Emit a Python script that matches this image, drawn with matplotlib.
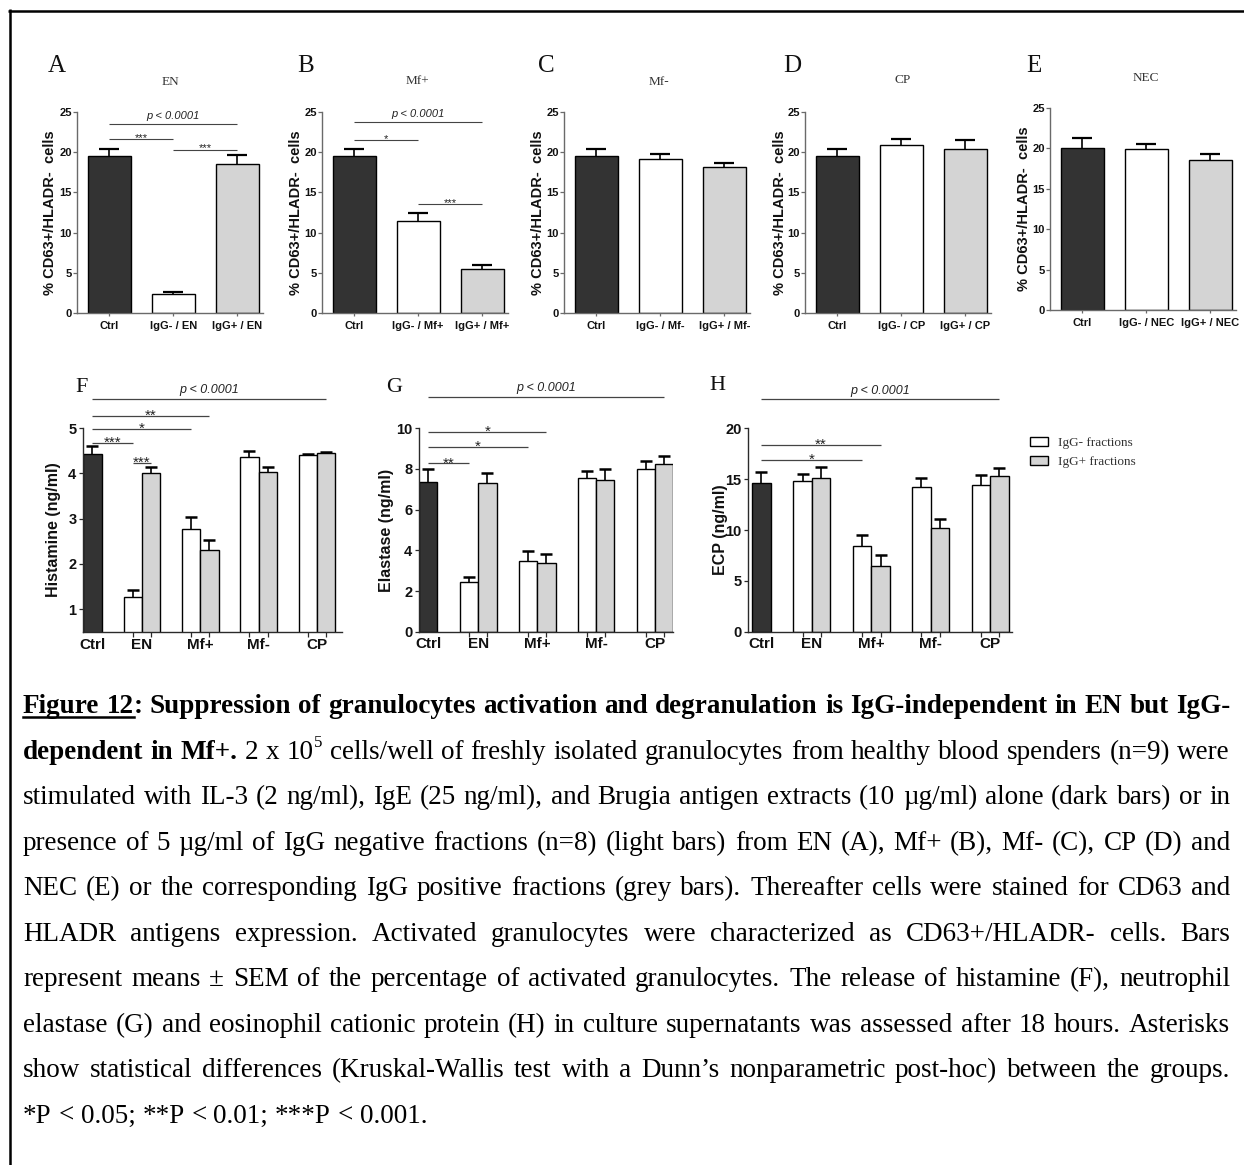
import numpy as np
import matplotlib
matplotlib.use('Agg')
import matplotlib.pyplot as plt
from matplotlib import font_manager as fm
from matplotlib.lines import Line2D
from matplotlib.patches import Patch

W, H, DPI = 1244, 1165, 100


def has_font(name):
    try:
        fm.findfont(fm.FontProperties(family=name), fallback_to_default=False)
        return True
    except Exception:
        return False


SANS = 'Liberation Sans' if has_font('Liberation Sans') else 'DejaVu Sans'
NARROW = 'Liberation Sans Narrow' if has_font('Liberation Sans Narrow') else SANS
SERIF = 'Liberation Serif' if has_font('Liberation Serif') else 'DejaVu Serif'
plt.rcParams['font.family'] = [SANS, 'DejaVu Sans']

# ---------------------------------------------------------------- data
top_letters = ['A', 'B', 'C', 'D', 'E']
top_sources = ['EN', 'Mf+', 'Mf-', 'CP', 'NEC']
top_ctrl = [19.54, 19.50, 19.50, 19.54, 20.04]
top_ctrl_err = [0.83, 0.87, 0.87, 0.83, 1.24]
top_igg_neg = [2.36, 11.47, 19.20, 20.87, 19.92]
top_igg_neg_err = [0.21, 1.03, 0.55, 0.73, 0.66]
top_igg_pos = [18.51, 5.47, 18.10, 20.37, 18.51]
top_igg_pos_err = [1.19, 0.49, 0.58, 1.12, 0.83]
top_ylabel = '% CD63+/HLADR-  cells'
top_yticks = [0, 5, 10, 15, 20, 25]
# significance brackets (from bar, to bar, height, label) for panels A and B
top_annots = {
    0: [(0, 2, 23.5, 'p < 0.0001'), (0, 1, 21.6, '***'), (1, 2, 20.3, '***')],
    1: [(0, 2, 23.7, 'p < 0.0001'), (0, 1, 21.5, '*'), (1, 2, 13.5, '***')],
}

bottom_letters = ['F', 'G', 'H']
bottom_groups = ['EN', 'Mf+', 'Mf-', 'CP']
bottom_ylabels = ['Histamine (ng/ml)', 'Elastase (ng/ml)', 'ECP (ng/ml)']

hist_ctrl, hist_ctrl_err = 4.43, 0.17
hist_neg = [1.28, 2.77, 4.36, 4.40]
hist_neg_err = [0.14, 0.26, 0.14, 0.03]
hist_pos = [4.00, 2.30, 4.02, 4.45]
hist_pos_err = [0.13, 0.22, 0.13, 0.03]

elas_ctrl, elas_ctrl_err = 7.38, 0.60
elas_neg = [2.46, 3.49, 7.54, 8.02]
elas_neg_err = [0.21, 0.48, 0.36, 0.37]
elas_pos = [7.31, 3.39, 7.48, 8.23]
elas_pos_err = [0.48, 0.45, 0.54, 0.43]

ecp_ctrl, ecp_ctrl_err = 14.66, 1.08
ecp_neg = [14.79, 8.43, 14.26, 14.39]
ecp_neg_err = [0.75, 1.08, 0.89, 0.99]
ecp_pos = [15.15, 6.49, 10.20, 15.28]
ecp_pos_err = [1.05, 1.05, 0.91, 0.82]

hist_annots = [('Ctrl', 'CP+', 5.64, 'p < 0.0001'), ('Ctrl', 'Mf++', 5.27, '**'),
               ('Ctrl', 'Mf+-', 4.98, '*'), ('Ctrl', 'EN-', 4.68, '***'),
               ('EN-', 'EN+', 4.23, '***')]
elas_annots = [('Ctrl', 'CP+', 11.55, 'p < 0.0001'), ('Ctrl', 'Mf++', 9.83, '*'),
               ('Ctrl', 'Mf+-', 9.10, '*'), ('Ctrl', 'EN-', 8.28, '**')]
ecp_annots = [('Ctrl', 'CP+', 22.85, 'p < 0.0001'), ('Ctrl', 'Mf++', 18.36, '**'),
              ('Ctrl', 'Mf+-', 16.88, '*')]

legend_labels = ['IgG- fractions', 'IgG+ fractions']

caption_bold1 = 'Suppression of granulocytes activation and degranulation is IgG-independent in EN but IgG-'
caption_bold2 = 'dependent in Mf+.'
caption_rest2 = 'cells/well of freshly isolated granulocytes from healthy blood spenders (n=9) were'
caption_plain = [
    'stimulated with IL-3 (2 ng/ml), IgE (25 ng/ml), and Brugia antigen extracts (10 \u00b5g/ml) alone (dark bars) or in',
    'presence of 5 \u00b5g/ml of IgG negative fractions (n=8) (light bars) from EN (A), Mf+ (B), Mf- (C), CP (D) and',
    'NEC (E) or the corresponding IgG positive fractions (grey bars). Thereafter cells were stained for CD63 and',
    'HLADR antigens expression. Activated granulocytes were characterized as CD63+/HLADR- cells. Bars',
    'represent means \u00b1 SEM of the percentage of activated granulocytes. The release of histamine (F), neutrophil',
    'elastase (G) and eosinophil cationic protein (H) in culture supernatants was assessed after 18 hours. Asterisks',
    'show statistical differences (Kruskal-Wallis test with a Dunn\u2019s nonparametric post-hoc) between the groups.',
    '*P < 0.05; **P < 0.01; ***P < 0.001.',
]

# ---------------------------------------------------------------- style
DARK = '#333333'
LIGHT = '#d4d4d4'
TOP_SPINE = '#6a6a6a'
BOT_SPINE = '#2a2a2a'
BRACKET = '#444444'

fig = plt.figure(figsize=(W / DPI, H / DPI), dpi=DPI)
fig.patch.set_facecolor('white')


def px_rect(l, t, r, b):
    return [l / W, 1 - b / H, (r - l) / W, (b - t) / H]


def fx(x):
    return x / W


def fy(y):
    return 1 - y / H


def draw_err(ax, x, y, e, capsize, lw, cth):
    e = np.asarray(e, dtype=float)
    c = ax.errorbar(x, y, yerr=[np.zeros_like(e), e], fmt='none', ecolor='black',
                    elinewidth=lw, capsize=capsize, capthick=cth, zorder=3)
    if len(c[1]) == 2:
        c[1][0].set_visible(False)


# ---------------------------------------------------------------- top row
top_left_px = [77, 322, 564, 805, 1050]
top_tb_px = [(112, 313), (112, 313), (112, 313), (112, 313), (108, 310)]
TOP_W = 186
top_ylabel_px = [50, 296, 538, 780, 1024]
top_letter_px = [(56.5, 66), (306, 65.5), (546, 66), (792, 66), (1034, 65.5)]
top_sub_px = [(170, 82), (417.5, 81), (659, 82), (903, 80), (1146, 78)]
TOP_X = np.arange(3)

for i in range(5):
    l = top_left_px[i]
    t, b = top_tb_px[i]
    ax = fig.add_axes(px_rect(l, t, l + TOP_W, b))
    vals = [top_ctrl[i], top_igg_neg[i], top_igg_pos[i]]
    errs = [top_ctrl_err[i], top_igg_neg_err[i], top_igg_pos_err[i]]
    ax.bar(TOP_X, vals, width=0.67, color=[DARK, 'white', LIGHT],
           edgecolor='black', linewidth=1.0, zorder=2)
    draw_err(ax, TOP_X, vals, errs, 7.5, 1.2, 1.6)
    ax.set_xlim(-0.5, 2.4)
    ax.set_ylim(0, 25)
    ax.set_yticks(top_yticks)
    ax.set_xticks(TOP_X)
    src = top_sources[i]
    ax.set_xticklabels(['Ctrl', 'IgG- / ' + src, 'IgG+ / ' + src])
    for lab in ax.get_xticklabels() + ax.get_yticklabels():
        lab.set_fontfamily(NARROW)
        lab.set_fontweight('bold')
        lab.set_fontsize(8 if NARROW == SANS else 9)
        lab.set_color('#111111')
    ax.tick_params(axis='y', direction='out', length=2.8, width=0.9, color=TOP_SPINE, pad=1)
    ax.tick_params(axis='x', direction='out', length=2.5, width=0.9, color=TOP_SPINE, pad=3)
    for s in ['top', 'right']:
        ax.spines[s].set_visible(False)
    for s in ['left', 'bottom']:
        ax.spines[s].set_color(TOP_SPINE)
        ax.spines[s].set_linewidth(1.0)
    ax.set_ylabel(top_ylabel, fontsize=10.5, fontweight='bold', fontfamily=SANS, color='#111111')
    ax.yaxis.label.set_verticalalignment('center')
    ax.yaxis.set_label_coords((top_ylabel_px[i] - l) / TOP_W, 0.5)
    ax.patch.set_alpha(0)

    for (a, bb, y, lab) in top_annots.get(i, []):
        ax.plot([a, bb], [y, y], color=BRACKET, lw=0.8, clip_on=False, solid_capstyle='butt')
        if lab.startswith('p'):
            ax.annotate(lab, xy=((a + bb) / 2, y), xytext=(0, 4), textcoords='offset points',
                        ha='center', va='baseline', fontsize=8, fontstyle='italic',
                        fontfamily=NARROW, color='#222222', annotation_clip=False)
        else:
            ax.annotate(lab, xy=((a + bb) / 2, y), xytext=(0, -1.2), textcoords='offset points',
                        ha='center', va='baseline', fontsize=8, fontfamily=NARROW,
                        color='#222222', annotation_clip=False)

    lx, ly = top_letter_px[i]
    fig.text(fx(lx), fy(ly), top_letters[i], fontsize=18, fontfamily=SERIF,
             ha='center', va='center', color='#111111')
    sx, sy = top_sub_px[i]
    fig.text(fx(sx), fy(sy), top_sources[i], fontsize=9.5, fontfamily=SERIF,
             ha='center', va='center', color='#333333')

# ---------------------------------------------------------------- bottom row
group_x = 2.72 + 3.2 * np.arange(len(bottom_groups))
neg_x = group_x - 0.5
pos_x = group_x + 0.5
bar_pos = {'Ctrl': 0.0}
for g, xn, xp in zip(bottom_groups, neg_x, pos_x):
    bar_pos[g + '-'] = xn
    bar_pos[g + '+'] = xp

bottom_rects = [(83, 428, 342, 632), (419, 428.3, 673, 631.7), (748, 428.3, 1012, 631.7)]
bottom_xlims = [(-0.52, 13.7), (-0.5, 13.3), (-0.72, 13.5)]
bottom_ylims = [(0.5, 5), (0, 10), (0, 20)]
bottom_yticks = [[1, 2, 3, 4, 5], [0, 2, 4, 6, 8, 10], [0, 5, 10, 15, 20]]
bottom_ylabel_px = [54, 387, 720]
bottom_letter_px = [(81.5, 387.5), (394, 387.5), (717.5, 385.5)]

bottom_data = [
    (hist_ctrl, hist_ctrl_err, hist_neg, hist_neg_err, hist_pos, hist_pos_err, hist_annots),
    (elas_ctrl, elas_ctrl_err, elas_neg, elas_neg_err, elas_pos, elas_pos_err, elas_annots),
    (ecp_ctrl, ecp_ctrl_err, ecp_neg, ecp_neg_err, ecp_pos, ecp_pos_err, ecp_annots),
]

legend_handles = None
for i in range(3):
    l, t, r, b = bottom_rects[i]
    ax = fig.add_axes(px_rect(l, t, r, b))
    ctrl, ctrl_err, neg, neg_err, pos, pos_err, annots = bottom_data[i]
    ax.bar([0], [ctrl], width=1.0, color=DARK, edgecolor='black', linewidth=1.0, zorder=2)
    bn = ax.bar(neg_x, neg, width=1.0, color='white', edgecolor='black', linewidth=1.0, zorder=2)
    bp = ax.bar(pos_x, pos, width=1.0, color=LIGHT, edgecolor='black', linewidth=1.0, zorder=2)
    draw_err(ax, [0], [ctrl], [ctrl_err], 4, 1.2, 1.8)
    draw_err(ax, neg_x, neg, neg_err, 4, 1.2, 1.8)
    draw_err(ax, pos_x, pos, pos_err, 4, 1.2, 1.8)
    legend_handles = (bn, bp)
    ax.set_xlim(*bottom_xlims[i])
    ax.set_ylim(*bottom_ylims[i])
    ax.set_yticks(bottom_yticks[i])
    ax.set_xticks(np.concatenate([[0.0], group_x]))
    ax.set_xticklabels(['Ctrl'] + bottom_groups)
    ax.set_xticks(np.sort(np.concatenate([neg_x, pos_x])), minor=True)
    ax.tick_params(axis='x', which='major', length=0, pad=4)
    ax.tick_params(axis='x', which='minor', length=3.5, width=0.9, color=BOT_SPINE, direction='out')
    ax.tick_params(axis='y', length=3.2, width=0.9, color=BOT_SPINE, direction='out', pad=1.5)
    for lab in ax.get_xticklabels():
        lab.set_fontweight('bold')
        lab.set_fontsize(11)
        lab.set_color('#111111')
    for lab in ax.get_yticklabels():
        lab.set_fontweight('bold')
        lab.set_fontsize(10.5)
        lab.set_color('#111111')
    for s in ['top', 'right']:
        ax.spines[s].set_visible(False)
    for s in ['left', 'bottom']:
        ax.spines[s].set_color(BOT_SPINE)
        ax.spines[s].set_linewidth(1.0)
    ax.set_ylabel(bottom_ylabels[i], fontsize=11.5, fontweight='bold', color='#111111')
    ax.yaxis.label.set_verticalalignment('center')
    ax.yaxis.set_label_coords((bottom_ylabel_px[i] - l) / (r - l), 0.5)
    ax.patch.set_alpha(0)

    for (a, bb, y, lab) in annots:
        x0, x1 = bar_pos[a], bar_pos[bb]
        ax.plot([x0, x1], [y, y], color=BRACKET, lw=0.9, clip_on=False, solid_capstyle='butt')
        if lab.startswith('p'):
            ax.annotate(lab, xy=((x0 + x1) / 2, y), xytext=(0, 4), textcoords='offset points',
                        ha='center', va='baseline', fontsize=9, fontstyle='italic',
                        color='#222222', annotation_clip=False)
        else:
            ax.annotate(lab, xy=((x0 + x1) / 2, y), xytext=(0, -3), textcoords='offset points',
                        ha='center', va='baseline', fontsize=11, color='#222222',
                        annotation_clip=False)

    lx, ly = bottom_letter_px[i]
    fig.text(fx(lx), fy(ly), bottom_letters[i], fontsize=16, fontfamily=SERIF,
             ha='center', va='center', color='#111111')

    if i == 2:
        ax.legend(handles=list(legend_handles), labels=legend_labels, loc='upper left',
                  bbox_to_anchor=(fx(1030), fy(437)), bbox_transform=fig.transFigure,
                  frameon=False, prop={'family': SERIF, 'size': 9.5},
                  handlelength=1.35, handleheight=0.72, handletextpad=0.75,
                  labelspacing=0.5, borderpad=0, borderaxespad=0, labelcolor='#333333')

# ---------------------------------------------------------------- frame
fig.add_artist(Line2D([fx(8.3), 1.0], [fy(10.5), fy(10.5)], transform=fig.transFigure,
                      color='black', lw=1.8, solid_capstyle='butt'))
fig.add_artist(Line2D([fx(9.5), fx(9.5)], [fy(9.3), 0.0], transform=fig.transFigure,
                      color='black', lw=1.8, solid_capstyle='butt'))

# ---------------------------------------------------------------- caption
CAP_FS = 19.5
EM = CAP_FS * DPI / 72
CAP_X0, CAP_X1 = 23, 1230
CAP_Y0, CAP_DY = 713.3, 45.5

lines = []
l1 = [[('Figure', 'bu')], [('12', 'bu'), (':', 'b')]] + [[(w, 'b')] for w in caption_bold1.split()]
l2 = ([[(w, 'b')] for w in caption_bold2.split()] + [[('2', '')], [('x', '')], [('10', ''), ('5', 's')]]
      + [[(w, '')] for w in caption_rest2.split()])
lines.append(l1)
lines.append(l2)
for s in caption_plain:
    lines.append([[(w, '')] for w in s.split()])

renderer = fig.canvas.get_renderer()
ul_x0, ul_x1 = None, None
for li, words in enumerate(lines):
    yb = CAP_Y0 + li * CAP_DY
    built = []
    for wd in words:
        segs = []
        for s, st in wd:
            fs = CAP_FS * 0.62 if 's' in st else CAP_FS
            t = fig.text(0, 0, s, fontsize=fs, fontfamily=SERIF,
                         fontweight='bold' if 'b' in st else 'normal',
                         ha='left', va='baseline', color='black')
            w = t.get_window_extent(renderer).width
            segs.append((t, w, st))
        built.append(segs)
    word_w = [sum(w for _, w, _ in segs) for segs in built]
    if li < len(lines) - 1:
        gap = (CAP_X1 - CAP_X0 - sum(word_w)) / (len(built) - 1)
    else:
        gap = 0.25 * EM
    x = CAP_X0
    for segs, ww in zip(built, word_w):
        xx = x
        for t, w, st in segs:
            yy = yb - (0.45 * EM if 's' in st else 0)
            t.set_position((fx(xx), fy(yy)))
            if 'u' in st:
                ul_x0 = xx if ul_x0 is None else min(ul_x0, xx)
                ul_x1 = xx + w if ul_x1 is None else max(ul_x1, xx + w)
            xx += w
        x += ww + gap

if ul_x0 is not None:
    fig.add_artist(Line2D([fx(ul_x0), fx(ul_x1)], [fy(CAP_Y0 + 4), fy(CAP_Y0 + 4)],
                          transform=fig.transFigure, color='black', lw=1.8))

fig.savefig('out.png', dpi=DPI, facecolor='white')
